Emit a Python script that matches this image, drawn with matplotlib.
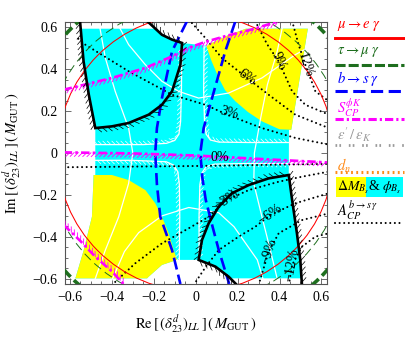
import numpy as np
import matplotlib
matplotlib.use('Agg')
import matplotlib.pyplot as plt
from matplotlib import patheffects as pe
from matplotlib.patches import Circle, Rectangle
from matplotlib.lines import Line2D

plt.rcParams['font.family'] = ['Liberation Serif', 'DejaVu Serif']
plt.rcParams['mathtext.fontset'] = 'stix'
plt.rcParams['axes.unicode_minus'] = True

# ---------------- data ----------------
XTICKS = [-0.6, -0.4, -0.2, 0.0, 0.2, 0.4, 0.6]
XTICK_LABELS = ['\u22120.6', '\u22120.4', '\u22120.2', '0', '0.2', '0.4', '0.6']
YTICKS = [-0.6, -0.4, -0.2, 0.0, 0.2, 0.4, 0.6]
YTICK_LABELS = ['\u22120.6', '\u22120.4', '\u22120.2', '0', '0.2', '0.4', '0.6']
MINOR_TICKS = [-0.55, -0.5, -0.45, -0.35, -0.3, -0.25, -0.15, -0.1, -0.05,
               0.05, 0.1, 0.15, 0.25, 0.3, 0.35, 0.45, 0.5, 0.55]

# allowed region (Delta M_Bs & phi_Bs): cyan part and yellow parts
CYAN_X = [-0.552, -0.185, -0.161, -0.113, -0.065, 0.05, 0.15, 0.24, 0.535, 0.456,
          0.445, 0.444, 0.46, 0.483, 0.499, 0.505, 0.17, 0.157, 0.094, 0.014,
          -0.089, -0.161, -0.224, -0.232, -0.574, -0.534, -0.495, -0.487, -0.479,
          -0.479, -0.51, -0.535]
CYAN_Y = [0.593, 0.593, 0.564, 0.541, 0.525, 0.512, 0.56, 0.593, 0.593, 0.111,
          0.111, -0.105, -0.224, -0.383, -0.51, -0.598, -0.598, -0.59, -0.542, -0.51,
          -0.51, -0.534, -0.59, -0.598, -0.598, -0.463, -0.304, -0.105, -0.105,
          0.119, 0.278, 0.437]
YEL1_X = [0.24, 0.535, 0.456, 0.40, 0.316, 0.25, 0.189, 0.14, 0.11, 0.075, 0.05, 0.15]
YEL1_Y = [0.593, 0.593, 0.111, 0.113, 0.151, 0.195, 0.247, 0.30, 0.358, 0.44, 0.512, 0.56]
YEL2_X = [-0.487, -0.40, -0.32, -0.24, -0.193, -0.161, -0.129, -0.105, -0.089,
          -0.161, -0.224, -0.232, -0.574, -0.534, -0.495]
YEL2_Y = [-0.105, -0.105, -0.129, -0.177, -0.24, -0.304, -0.383, -0.463, -0.51,
          -0.534, -0.59, -0.598, -0.598, -0.463, -0.304]

# thick black hatched contours
CONT1_X = [-0.232, -0.161, -0.113, -0.065, -0.073, -0.113, -0.161, -0.224, -0.32,
           -0.40, -0.479, -0.51, -0.535, -0.552]
CONT1_Y = [0.63, 0.564, 0.541, 0.525, 0.421, 0.294, 0.23, 0.183, 0.143,
           0.127, 0.119, 0.278, 0.437, 0.63]
CONT2_X = [0.197, 0.157, 0.094, 0.014, 0.03, 0.062, 0.11, 0.173, 0.253, 0.348,
           0.444, 0.46, 0.483, 0.499, 0.507]
CONT2_Y = [-0.63, -0.59, -0.542, -0.51, -0.415, -0.335, -0.256, -0.192, -0.153, -0.121,
           -0.105, -0.224, -0.383, -0.51, -0.63]

# white grid curves
WA_X = [-0.463, -0.431, -0.384, -0.32, -0.30, -0.32, -0.367, -0.431, -0.49]
WA_Y = [0.63, 0.453, 0.294, 0.119, 0.0, -0.145, -0.304, -0.463, -0.63]
WB_X = [0.42, 0.389, 0.342, 0.31, 0.28, 0.277, 0.316, 0.356, 0.396]
WB_Y = [0.63, 0.485, 0.326, 0.167, 0.0, -0.145, -0.304, -0.463, -0.63]
WC_X = [-0.38, -0.32, -0.24, -0.161, -0.081, 0.014, 0.157, 0.316, 0.475, 0.635]
WC_Y = [0.63, 0.517, 0.421, 0.342, 0.294, 0.262, 0.286, 0.358, 0.469, 0.557]
WD_X = [-0.41, -0.34, -0.272, -0.161, -0.033, 0.11, 0.183, 0.294, 0.33]
WD_Y = [-0.63, -0.47, -0.38, -0.30, -0.26, -0.285, -0.352, -0.51, -0.63]

# white hatched hyperbola branches
HUL_X = [-0.48, -0.25, -0.14, -0.10, -0.08, -0.072, -0.068, -0.066]
HUL_Y = [0.04, 0.04, 0.046, 0.06, 0.09, 0.15, 0.30, 0.51]
HUR_X = [0.04, 0.038, 0.042, 0.05, 0.07, 0.11, 0.25, 0.445]
HUR_Y = [0.51, 0.30, 0.15, 0.09, 0.062, 0.052, 0.05, 0.05]
HLL_X = [-0.078, -0.076, -0.078, -0.085, -0.105, -0.14, -0.30, -0.48]
HLL_Y = [-0.51, -0.30, -0.15, -0.09, -0.058, -0.042, -0.035, -0.035]
HLR_X = [0.445, 0.25, 0.09, 0.05, 0.03, 0.02, 0.016, 0.016]
HLR_Y = [-0.05, -0.05, -0.053, -0.065, -0.095, -0.15, -0.30, -0.51]

# circles: mu->e gamma, tau->mu gamma (two)
R_MEG = 0.66
R_TMG_THIN = 0.715
R_TMG_THICK = 0.84

# b -> s gamma
B1_X = [-0.042, -0.113, -0.161, -0.185, -0.193, -0.185, -0.169, -0.113, -0.073]
B1_Y = [0.628, 0.485, 0.262, 0.119, 0.0, -0.15, -0.304, -0.463, -0.625]
B2_X = [0.189, 0.141, 0.078, 0.038, 0.022, 0.032, 0.048, 0.08, 0.11, 0.16]
B2_Y = [0.628, 0.485, 0.262, 0.119, 0.0, -0.12, -0.224, -0.35, -0.463, -0.625]

# S_CP^{phi K}
M1_X = [-0.63, -0.3, 0.0, 0.3, 0.63]
M1_Y = [0.003, -0.002, -0.012, -0.028, -0.045]
M2_X = [-0.63, -0.40, -0.24, -0.113, -0.04, 0.046, 0.15, 0.27, 0.40]
M2_Y = [0.302, 0.358, 0.406, 0.461, 0.50, 0.53, 0.56, 0.59, 0.63]
M3_X = [-0.63, -0.55, -0.479, -0.40, -0.34]
M3_Y = [-0.343, -0.42, -0.495, -0.565, -0.63]

# A_CP(b -> s gamma) contours
AC_LINES = {
    '0%':   ([-0.63, 0.0, 0.63], [-0.068, -0.062, -0.052]),
    '3%':   ([-0.56, -0.527, -0.32, -0.113, 0.046, 0.157, 0.316, 0.475, 0.635],
             [0.545, 0.517, 0.39, 0.278, 0.23, 0.18, 0.119, 0.072, 0.04]),
    '6%':   ([-0.018, 0.046, 0.125, 0.245, 0.348, 0.475, 0.635],
             [0.62, 0.549, 0.453, 0.358, 0.278, 0.183, 0.119]),
    '9%':   ([0.284, 0.34, 0.396, 0.46, 0.523, 0.635],
             [0.63, 0.52, 0.437, 0.294, 0.23, 0.183]),
    '12%':  ([0.46, 0.49, 0.523, 0.571, 0.635],
             [0.63, 0.52, 0.421, 0.294, 0.247]),
    '-3%':  ([-0.4, -0.288, -0.161, -0.033, 0.062, 0.149, 0.253, 0.396, 0.507, 0.635],
             [-0.63, -0.526, -0.431, -0.359, -0.304, -0.224, -0.177, -0.137, -0.113, -0.089]),
    '-6%':  ([-0.01, 0.05, 0.11, 0.205, 0.284, 0.356, 0.475, 0.635],
             [-0.63, -0.54, -0.463, -0.399, -0.352, -0.296, -0.24, -0.192]),
    '-9%':  ([0.3, 0.348, 0.396, 0.507, 0.635],
             [-0.63, -0.471, -0.383, -0.32, -0.288]),
    '-12%': ([0.444, 0.46, 0.507, 0.571, 0.635],
             [-0.63, -0.534, -0.447, -0.399, -0.383]),
}
AC_LABELS = ['0%', '3%', '6%', '9%', '12%', '\u22123%', '\u22126%', '\u22129%', '\u221212%']
AC_LABEL_X = [0.117, 0.157, 0.245, 0.396, 0.523, 0.149, 0.356, 0.348, 0.46]
AC_LABEL_Y = [-0.022, 0.19, 0.362, 0.437, 0.421, -0.224, -0.296, -0.471, -0.534]
AC_LABEL_ROT = [0, -15, -35, -65, -72, 32, 35, 72, 80]

LEGEND_TEXTS = [r'$\mu\rightarrow e\;\gamma$', r'$\tau\rightarrow\mu\;\gamma$',
                r'$b\rightarrow s\;\gamma$', r'$S_{CP}^{\phi K}$',
                r"$\epsilon'\,/\,\epsilon_K$", r'$d_n$']

# ---------------- figure ----------------
W, H = 406, 343
fig = plt.figure(figsize=(W / 100, H / 100), dpi=100)
ax = fig.add_axes([64.7 / W, 1 - 284 / H, 262 / W, 262 / H])
ax.set_xlim(-0.625, 0.625)
ax.set_ylim(-0.625, 0.625)

CYAN = '#00ffff'
YELLOW = '#ffff00'
RED = '#ff0000'
GREEN = '#1e6e1e'
BLUE = '#0000ff'
MAG = '#ff00ff'
GRAY = '#9a9a9a'
ORANGE = '#ff8c1a'

ax.fill(CYAN_X, CYAN_Y, color=CYAN, lw=0, zorder=1)
ax.fill(YEL1_X, YEL1_Y, color=YELLOW, lw=0, zorder=1.1)
ax.fill(YEL2_X, YEL2_Y, color=YELLOW, lw=0, zorder=1.1)

# white grid curves
for xs, ys in [(WA_X, WA_Y), (WB_X, WB_Y), (WC_X, WC_Y), (WD_X, WD_Y)]:
    ax.plot(xs, ys, color='white', lw=0.9, zorder=2)

# white hatched branches
for xs, ys in [(HUL_X, HUL_Y), (HUR_X, HUR_Y), (HLL_X, HLL_Y), (HLR_X, HLR_Y)]:
    ax.plot(xs, ys, color='white', lw=0.9, zorder=2.1)
    ax.plot(xs, ys, color='white', lw=0.5, zorder=2.1,
            path_effects=[pe.TickedStroke(spacing=3.2, angle=135, length=1.1)])

# A_CP dotted contours
for key, (xs, ys) in AC_LINES.items():
    ax.plot(xs, ys, color='black', lw=1.5, linestyle=(0, (0.01, 2.2)),
            dash_capstyle='round', zorder=3)
for lab, x, y, r in zip(AC_LABELS, AC_LABEL_X, AC_LABEL_Y, AC_LABEL_ROT):
    ax.text(x, y, lab, fontsize=10, rotation=r, ha='center', va='center',
            rotation_mode='anchor', zorder=6, color='black')

# circles
c1 = Circle((0, 0), R_MEG, fill=False, ec=RED, lw=0.75, zorder=3.5)
ax.add_patch(c1)
c2 = Circle((0, 0), R_TMG_THIN, fill=False, ec=GREEN, lw=0.7,
            linestyle=(0, (9, 5)), zorder=3.5)
ax.add_patch(c2)
c3 = Circle((0, 0), R_TMG_THICK, fill=False, ec=GREEN, lw=2.6,
            linestyle=(0, (2.6, 1.3)), zorder=3.5)
ax.add_patch(c3)

# b -> s gamma
for xs, ys in [(B1_X, B1_Y), (B2_X, B2_Y)]:
    ax.plot(xs, ys, color=BLUE, lw=1.9, linestyle=(0, (4.6, 2.0)), zorder=4)

# S_CP^{phi K}
for xs, ys, ang in [(M1_X, M1_Y, -135), (M2_X, M2_Y, -135), (M3_X, M3_Y, 135)]:
    ax.plot(xs, ys, color=MAG, lw=1.9, linestyle=(0, (3.2, 1.2, 1.0, 1.2)), zorder=4.5)
    ax.plot(xs, ys, color=MAG, lw=0.6, zorder=4.5,
            path_effects=[pe.TickedStroke(spacing=3.0, angle=ang, length=1.3)])

# black contours with hatching
for xs, ys in [(CONT1_X, CONT1_Y), (CONT2_X, CONT2_Y)]:
    ax.plot(xs, ys, color='black', lw=1.9, zorder=5, solid_joinstyle='miter')
    ax.plot(xs, ys, color='black', lw=0.5, zorder=5,
            path_effects=[pe.TickedStroke(spacing=3.8, angle=135, length=1.2)])

# axes styling
ax.set_xticks(XTICKS, XTICK_LABELS)
ax.set_yticks(YTICKS, YTICK_LABELS)
ax.set_xticks(MINOR_TICKS, minor=True)
ax.set_yticks(MINOR_TICKS, minor=True)
ax.tick_params(which='both', direction='in', top=True, right=True, color='#555555',
               labelsize=10, width=0.6)
ax.tick_params(which='major', length=4, pad=5)
ax.tick_params(which='minor', length=2.2)
for s in ax.spines.values():
    s.set_color('#555555')
    s.set_linewidth(0.8)

fig.text(195.7 / W, 1 - 324 / H,
         r'$\mathrm{Re}\,[\,(\delta^{d}_{23})_{LL}\,]\,(\,M_{\mathrm{GUT}}\,)$',
         ha='center', va='center', fontsize=10.5)
fig.text(12 / W, 1 - 153 / H,
         r'$\mathrm{Im}\,[\,(\delta^{d}_{23})_{LL}\,]\,(\,M_{\mathrm{GUT}}\,)$',
         ha='center', va='center', fontsize=10.5, rotation=90)

# ---------------- legend ----------------
def fx(px):
    return px / W

def fy(py):
    return 1 - py / H

LX0, LX1 = 335, 404
leg_colors = [RED, GREEN, BLUE, MAG, GRAY, ORANGE]
text_py = [26, 52, 79, 108, 135, 166]
line_py = [38, 65, 91, 118.5, 145, 172]
line_styles = ['-', (0, (3.3, 1.0)), (0, (4.0, 1.8)), (0, (2.7, 1.0, 0.7, 1.0)),
               (0, (0.6, 0.8, 0.6, 2.8)), (0, (0.6, 1.1))]
line_lw = [2.1, 2.2, 2.2, 2.2, 2.0, 2.2]
for t, c, tp, lp, ls, lw in zip(LEGEND_TEXTS, leg_colors, text_py, line_py, line_styles, line_lw):
    fig.text(fx(337), fy(tp), t, color=c, fontsize=10.5, ha='left', va='center')
    fig.add_artist(Line2D([fx(LX0), fx(LX1)], [fy(lp), fy(lp)], transform=fig.transFigure,
                          color=c, lw=lw, linestyle=ls))

fig.add_artist(Rectangle((fx(336), fy(197)), fx(366) - fx(336), fy(177) - fy(197),
                         transform=fig.transFigure, color=YELLOW, lw=0))
fig.add_artist(Rectangle((fx(366), fy(197)), fx(403) - fx(366), fy(177) - fy(197),
                         transform=fig.transFigure, color=CYAN, lw=0))
fig.text(fx(337), fy(187), r'$\Delta M_{B_s}$', fontsize=10, ha='left', va='center')
fig.text(fx(368), fy(187), r'& $\phi_{B_s}$', fontsize=10, ha='left', va='center')
fig.text(fx(337), fy(210), r'$A_{CP}^{b\rightarrow s\,\gamma}$', fontsize=10.5,
         ha='left', va='center')
fig.add_artist(Line2D([fx(LX0), fx(LX1)], [fy(223), fy(223)], transform=fig.transFigure,
                      color='black', lw=1.5, linestyle=(0, (0.01, 2.2)),
                      dash_capstyle='round'))

fig.savefig('out.png', dpi=100)
